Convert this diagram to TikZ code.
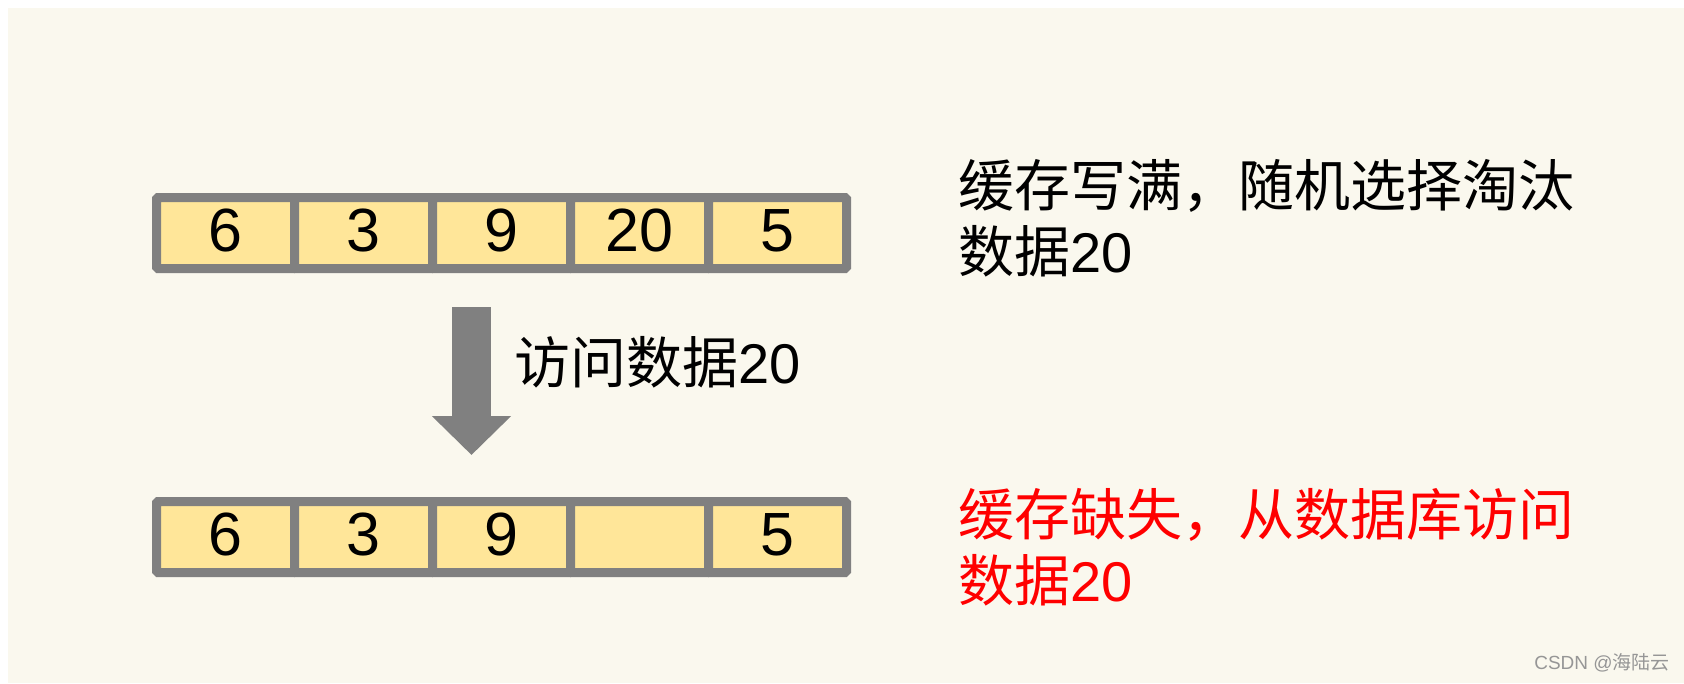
\documentclass[tikz,border=0pt]{standalone}
\usepackage{fontspec}
\setmainfont{Liberation Sans}
\newfontfamily\cjk{Noto Sans CJK SC}
\usetikzlibrary{arrows.meta}

\definecolor{bgcream}{RGB}{250,248,238}
\definecolor{cellyellow}{RGB}{255,230,153}
\definecolor{boxgray}{RGB}{128,128,128}
\definecolor{markgray}{RGB}{150,150,150}

\begin{document}
\begin{tikzpicture}[x=1pt,y=-1pt,
    cell/.style={draw=boxgray, line width=9pt, fill=cellyellow, rounded corners=1.5pt,
      minimum width=138pt, minimum height=71pt, inner sep=0pt,
      text height=44pt, text depth=8pt,
      font=\fontsize{61}{61}\selectfont},
    note/.style={anchor=west, align=left, inner sep=0pt, font=\fontsize{56}{66}\selectfont},
    bigarrow/.style={draw=boxgray, line width=39pt, -{Triangle[width=77pt,length=39pt]}}]
    \useasboundingbox (0,0) rectangle (1684,683);
    \fill[bgcream] (8,8) rectangle (1684,683);
    % top row: cache full
    \foreach \v [count=\i] in {6,3,9,20,5} {
      \node[cell] (t-\i) at (87.5+138*\i,233) {\v};
    }
    % bottom row: 20 evicted
    \foreach \v [count=\i] in {6,3,9,{},5} {
      \node[cell] (b-\i) at (87.5+138*\i,537) {\v};
    }
    % access arrow
    \coordinate (a-top) at (471.5,307);
    \coordinate (a-tip) at (471.5,455);
    \draw[bigarrow] (a-top) -- (a-tip);
    \node[note] (access) at (514,362) {{\cjk 访问数据}20};
    % notes on the right
    \node[note] (full) at (958,218) {{\cjk 缓存写满，随机选择淘汰}\\{\cjk 数据}20};
    \node[note, text=red] (miss) at (958,547) {{\cjk 缓存缺失，从数据库访问}\\{\cjk 数据}20};
    \node[text=markgray, font=\fontsize{19}{19}\selectfont] (mark) at (1602,663) {CSDN @{\cjk 海陆云}};
\end{tikzpicture}
\end{document}
